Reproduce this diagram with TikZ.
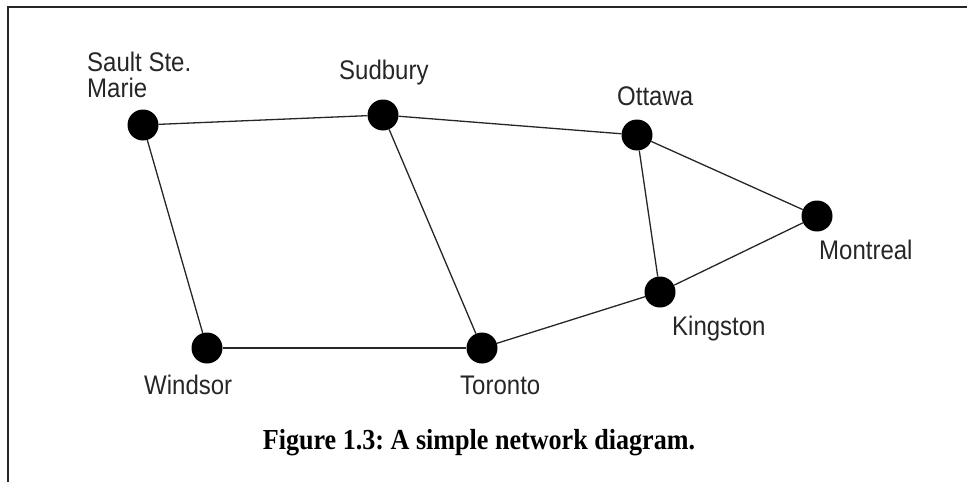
\documentclass[tikz,border=0pt]{standalone}
\usepackage{fontspec}
\usepackage{graphicx}
\setmainfont{Liberation Sans}
\newfontfamily\capfont{Liberation Serif}
\frenchspacing
\newcommand{\tallword}[1]{\scalebox{1}[1.12]{#1}}
\tikzset{
  city/.style={circle, fill=black, inner sep=0pt, minimum size=31pt},
  link/.style={line width=1.3pt, draw=black!85},
  townlabel/.style={anchor=base west, inner sep=0pt, font=\fontsize{24}{30}\selectfont, text=black!85},
  frameline/.style={line width=2.2pt, draw=black!85}
}
\begin{document}
\begin{tikzpicture}[x=1pt, y=-1pt]
  \useasboundingbox (0,0) rectangle (967,482);
  % frame (top and left edges)
  \draw[frameline] (8,482) -- (8,7) -- (967,7);

  % cities
  \node[city] (sault)    at (143,125) {};
  \node[city] (sudbury)  at (383,115) {};
  \node[city] (ottawa)   at (637,135) {};
  \node[city] (montreal) at (817,216) {};
  \node[city] (kingston) at (660,292) {};
  \node[city] (toronto)  at (482,348) {};
  \node[city] (windsor)  at (207,348) {};

  % links
  \draw[link] (sault) -- (sudbury);
  \draw[link] (sudbury) -- (ottawa);
  \draw[link] (ottawa) -- (montreal);
  \draw[link] (ottawa) -- (kingston);
  \draw[link] (montreal) -- (kingston);
  \draw[link] (kingston) -- (toronto);
  \draw[link] (toronto) -- (windsor);
  \draw[link] (windsor) -- (sault);
  \draw[link] (sudbury) -- (toronto);

  % labels
  \node[townlabel] (lsault1) at (87,71) {\tallword{Sault Ste.}};
  \node[townlabel] (lsault2) at (87,97) {\tallword{Marie}};
  \node[townlabel] (lsudbury) at (339,79) {\tallword{Sudbury}};
  \node[townlabel] (lottawa) at (617,105) {\tallword{Ottawa}};
  \node[townlabel] (lmontreal) at (819,259) {\tallword{Montreal}};
  \node[townlabel] (lkingston) at (672,335) {\tallword{Kingston}};
  \node[townlabel] (lwindsor) at (144,394) {\tallword{Windsor}};
  \node[townlabel] (ltoronto) at (460,394) {\tallword{Toronto}};

  % caption
  \node[anchor=base, inner sep=0pt, font=\capfont\bfseries\fontsize{29}{32}\selectfont] (caption) at (479,449) {\scalebox{0.9}[1]{Figure 1.3: A simple network diagram.}};
\end{tikzpicture}
\end{document}
